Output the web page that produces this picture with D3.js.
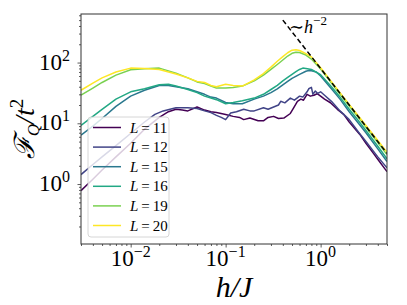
<!DOCTYPE html>
<html>
<head>
<meta charset="utf-8">
<script src="https://cdn.jsdelivr.net/npm/d3@7"></script>
<style>
  body { margin: 0; background: #fff; }
  svg text { font-family: "Liberation Serif", "Times New Roman", "DejaVu Serif", serif; fill: #000; }
</style>
</head>
<body>
<svg id="chart" width="407" height="305"></svg>
<script>
// system sizes, one curve each
var sizes = [11, 12, 15, 16, 19, 20];

// h/J values and F_Q/t^2 values
var h11 = [0.003, 0.004, 0.005, 0.007, 0.01, 0.014, 0.02, 0.025, 0.03, 0.035, 0.04, 0.05, 0.06, 0.07, 0.08, 0.1, 0.12, 0.14, 0.155, 0.18, 0.22, 0.25, 0.28, 0.32, 0.36, 0.41, 0.48, 0.52, 0.57, 0.62, 0.66, 0.72, 0.78, 0.85, 0.92, 1.0, 1.1, 1.27, 1.5, 1.75, 2, 2.6, 3, 3.6, 4.2, 5];
var f11 = [0.78, 1.2, 1.7, 2.8, 4.7, 8, 12.5, 15.5, 17, 16.5, 16, 18.5, 16.5, 15.5, 15, 14, 13, 12.5, 11.5, 12.2, 11, 11, 12.5, 13, 12, 12.2, 14.5, 18, 23, 25, 24, 30, 28, 29, 30.7, 28, 25, 21.8, 17, 14, 10.5, 6.5, 4.7, 3.2, 2.3, 1.6];

var h12 = [0.003, 0.004, 0.005, 0.007, 0.01, 0.014, 0.018, 0.022, 0.03, 0.04, 0.05, 0.06, 0.07, 0.08, 0.09, 0.1, 0.113, 0.13, 0.155, 0.18, 0.2, 0.25, 0.28, 0.32, 0.36, 0.38, 0.42, 0.48, 0.53, 0.6, 0.65, 0.72, 0.75, 0.8, 0.83, 0.88, 0.93, 1.0, 1.1, 1.3, 1.6, 2, 2.5, 3, 4, 5];
var f12 = [1.43, 2.1, 2.8, 4.3, 6.8, 10.5, 14, 16, 18, 18, 17.5, 16, 15, 13.5, 12.5, 11.5, 14.8, 15.5, 17, 16, 16, 18, 17, 18.5, 20, 23, 21.7, 26, 24, 28, 27, 33, 37, 39, 30, 34, 31, 33, 29, 23, 16, 11.5, 7.2, 5, 2.8, 1.85];

var h15 = [0.003, 0.004, 0.005, 0.007, 0.01, 0.014, 0.02, 0.025, 0.03, 0.04, 0.05, 0.06, 0.07, 0.08, 0.1, 0.12, 0.15, 0.2, 0.25, 0.3, 0.35, 0.4, 0.45, 0.5, 0.6, 0.7, 0.75, 0.8, 0.9, 1.0, 1.3, 1.6, 2, 2.5, 3, 4, 5];
var f15 = [6.4, 9, 12, 19, 28, 35, 42, 42, 40, 37, 33, 30, 27, 26, 22, 21, 21, 25, 28, 32, 37, 43, 49, 55, 64, 72, 74, 73, 70, 60, 37, 25, 15.5, 10, 7, 3.8, 2.35];

var h16 = [0.003, 0.004, 0.005, 0.007, 0.01, 0.014, 0.02, 0.025, 0.03, 0.04, 0.05, 0.06, 0.07, 0.08, 0.1, 0.12, 0.15, 0.2, 0.25, 0.3, 0.35, 0.4, 0.45, 0.5, 0.55, 0.6, 0.65, 0.7, 0.8, 1.0, 1.3, 1.6, 2, 2.5, 3, 4, 5];
var f16 = [9.2, 13, 17, 25, 33, 37, 43, 44, 41, 36, 32, 28, 26, 24.5, 21, 22, 23.5, 26, 30, 36, 42, 50, 57, 64, 71, 77, 81, 80, 77, 63, 40, 27, 17, 11, 7.6, 4.2, 2.6];

var h19 = [0.003, 0.004, 0.005, 0.007, 0.01, 0.014, 0.02, 0.03, 0.04, 0.05, 0.06, 0.07, 0.08, 0.1, 0.12, 0.15, 0.2, 0.25, 0.3, 0.35, 0.4, 0.45, 0.5, 0.55, 0.6, 0.7, 0.8, 1.0, 1.3, 1.6, 2, 2.5, 3, 4, 5];
var f19 = [29, 38, 47, 62, 76, 79, 81, 67, 56, 48, 45, 41, 38, 38, 39, 41, 50, 62, 77, 93, 110, 128, 142, 148, 146, 133, 114, 78, 46, 30, 19.2, 12.4, 8.6, 4.8, 3.05];

var h20 = [0.003, 0.004, 0.005, 0.007, 0.01, 0.014, 0.02, 0.03, 0.04, 0.05, 0.06, 0.07, 0.08, 0.1, 0.12, 0.15, 0.2, 0.25, 0.3, 0.35, 0.4, 0.45, 0.5, 0.55, 0.6, 0.7, 0.8, 1.0, 1.3, 1.6, 2, 2.5, 3, 4, 5];
var f20 = [35, 46, 56, 70, 81, 80, 77, 65, 56, 49, 47, 42, 40, 44, 42, 41, 52, 66, 84, 105, 125, 145, 160, 163, 158, 140, 124, 82, 48.5, 32, 20.5, 13.2, 9.2, 5.2, 3.35];

// ~h^-2 guide line (two end points)
var refH = [0.4, 5];
var refF = [500, 3.2];

var xTicks = [0.01, 0.1, 1];
var xTickExp = ["\u22122", "\u22121", "0"];
var yTicks = [1, 10, 100];
var yTickExp = ["0", "1", "2"];

var series = [
  { L: 11, h: h11, f: f11 },
  { L: 12, h: h12, f: f12 },
  { L: 15, h: h15, f: f15 },
  { L: 16, h: h16, f: f16 },
  { L: 19, h: h19, f: f19 },
  { L: 20, h: h20, f: f20 }
];

var svg = d3.select("#chart"),
    WIDTH = 407,
    HEIGHT = 305,
    MARGINS = { top: 14, right: 20, bottom: 61, left: 81 };

var SERIF = '"Liberation Serif", "Times New Roman", "DejaVu Serif", serif';

var xScale = d3.scaleLog().domain([0.003, 5]).range([MARGINS.left, WIDTH - MARGINS.right]);
var yScale = d3.scaleLog().domain([0.103, 630]).range([HEIGHT - MARGINS.bottom, MARGINS.top]);
var color = function (i) { return d3.interpolateViridis(i / (sizes.length - 1)); };

// minor ticks 2..9 in each decade inside the domain
function minors(scale) {
  var d = scale.domain(), out = [];
  for (var e = -3; e <= 3; e++) {
    for (var m = 2; m <= 9; m++) {
      var v = m * Math.pow(10, e);
      if (v >= d[0] && v <= d[1]) out.push(v);
    }
  }
  return out;
}

svg.append("clipPath").attr("id", "plotclip")
  .append("rect")
  .attr("x", MARGINS.left).attr("y", MARGINS.top)
  .attr("width", WIDTH - MARGINS.left - MARGINS.right)
  .attr("height", HEIGHT - MARGINS.top - MARGINS.bottom);

var plot = svg.append("g").attr("clip-path", "url(#plotclip)");

var lineGen = d3.line()
  .x(function (d) { return xScale(d[0]); })
  .y(function (d) { return yScale(d[1]); });

series.forEach(function (s, i) {
  plot.append("path")
    .attr("d", lineGen(d3.zip(s.h, s.f)))
    .attr("fill", "none")
    .attr("stroke", color(i))
    .attr("stroke-width", 1.5)
    .attr("stroke-linejoin", "round");
});

plot.append("path")
  .attr("d", lineGen(d3.zip(refH, refF)))
  .attr("fill", "none")
  .attr("stroke", "#000")
  .attr("stroke-width", 1.5)
  .attr("stroke-dasharray", "5,3");

// axes
var axisColor = "#333";
var xAxisG = svg.append("g")
  .attr("transform", "translate(0," + (HEIGHT - MARGINS.bottom) + ")");
xAxisG.call(d3.axisBottom(xScale).tickValues(minors(xScale)).tickSize(2).tickFormat(""));
xAxisG.call(function (g) {
  g.selectAll(".domain").remove();
  g.append("g").call(d3.axisBottom(xScale).tickValues(xTicks).tickSize(3.5).tickFormat(""))
    .select(".domain").remove();
});

var yAxisG = svg.append("g")
  .attr("transform", "translate(" + MARGINS.left + ",0)");
yAxisG.call(d3.axisLeft(yScale).tickValues(minors(yScale)).tickSize(2).tickFormat(""));
yAxisG.call(function (g) {
  g.selectAll(".domain").remove();
  g.append("g").call(d3.axisLeft(yScale).tickValues(yTicks).tickSize(3.5).tickFormat(""))
    .select(".domain").remove();
});
svg.selectAll(".tick line").attr("stroke", axisColor).attr("stroke-width", 0.8);

// frame
svg.append("rect")
  .attr("x", MARGINS.left).attr("y", MARGINS.top)
  .attr("width", WIDTH - MARGINS.left - MARGINS.right)
  .attr("height", HEIGHT - MARGINS.top - MARGINS.bottom)
  .attr("fill", "none").attr("stroke", axisColor).attr("stroke-width", 1);

// tick labels as 10^n
xTicks.forEach(function (v, i) {
  var t = svg.append("text")
    .attr("x", xScale(v)).attr("y", HEIGHT - MARGINS.bottom + 22)
    .attr("text-anchor", "middle")
    .style("font-family", SERIF).style("font-size", "23px");
  t.append("tspan").text("10");
  t.append("tspan").attr("dy", -9).style("font-size", "16px").text(xTickExp[i]);
});
yTicks.forEach(function (v, i) {
  var t = svg.append("text")
    .attr("x", MARGINS.left - 11).attr("y", yScale(v) + 7)
    .attr("text-anchor", "end")
    .style("font-family", SERIF).style("font-size", "23px");
  t.append("tspan").text("10");
  t.append("tspan").attr("dy", -9).style("font-size", "16px").text(yTickExp[i]);
});

// axis titles
svg.append("text")
  .attr("x", (MARGINS.left + WIDTH - MARGINS.right) / 2).attr("y", 297)
  .attr("text-anchor", "middle")
  .style("font-family", SERIF)
  .style("font-size", "30px").style("font-style", "italic")
  .text("h/J");

var yl = svg.append("text")
  .attr("transform", "translate(34," + ((MARGINS.top + HEIGHT - MARGINS.bottom) / 2) + ") rotate(-90)")
  .attr("text-anchor", "middle")
  .style("font-family", SERIF)
  .style("font-size", "28px");
yl.append("tspan").style("font-style", "italic").text("\u2131");
yl.append("tspan").attr("dy", 5).style("font-size", "17px").style("font-style", "italic").text("Q");
yl.append("tspan").attr("dy", -5).style("font-style", "italic").text("/t");
yl.append("tspan").attr("dy", -11).style("font-size", "19px").text("2");

// guide label
var gl = svg.append("text").attr("x", 289).attr("y", 33)
  .style("font-family", SERIF).style("font-size", "18px");
gl.append("tspan").text("\u223C");
gl.append("tspan").style("font-style", "italic").text("h");
gl.append("tspan").attr("dy", -8).style("font-size", "13px").text("\u22122");

// legend
var legend = svg.append("g");
legend.append("rect")
  .attr("x", 88).attr("y", 117).attr("width", 81).attr("height", 120)
  .attr("rx", 3)
  .attr("fill", "#fff").attr("fill-opacity", 0.8)
  .attr("stroke", "#ccc").attr("stroke-width", 0.8);
series.forEach(function (s, i) {
  var yy = 127.5 + i * 19.6;
  legend.append("line")
    .attr("x1", 93).attr("x2", 121).attr("y1", yy).attr("y2", yy)
    .attr("stroke", color(i)).attr("stroke-width", 1.5);
  var t = legend.append("text").attr("x", 130).attr("y", yy + 5)
    .style("font-family", SERIF).style("font-size", "15px");
  t.append("tspan").style("font-style", "italic").text("L");
  t.append("tspan").text("\u2009=\u2009" + s.L);
});
</script>
</body>
</html>
